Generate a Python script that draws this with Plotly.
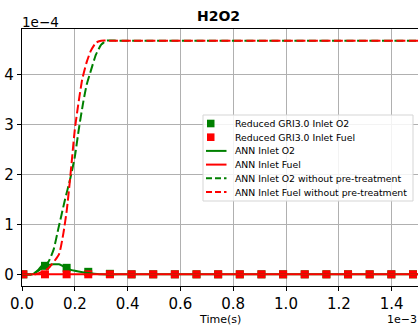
import plotly.graph_objects as go

# time axis in units of 1e-3 s, concentration in units of 1e-4
gri_time = [0.005, 0.087, 0.169, 0.251, 0.333, 0.415, 0.497, 0.579, 0.661, 0.743,
            0.825, 0.907, 0.989, 1.071, 1.153, 1.235, 1.317, 1.399, 1.481]
gri_o2 = [0.0, 0.17, 0.13, 0.05, 0.01, 0.0, 0.0, 0.0, 0.0, 0.0,
          0.0, 0.0, 0.0, 0.0, 0.0, 0.0, 0.0, 0.0, 0.0]
gri_fuel = [0.0, 0.0, 0.0, 0.0, 0.0, 0.0, 0.0, 0.0, 0.0, 0.0,
            0.0, 0.0, 0.0, 0.0, 0.0, 0.0, 0.0, 0.0, 0.0]

ann_o2_time = [0.0, 0.04, 0.06, 0.08, 0.10, 0.12, 0.14, 0.16, 0.18, 0.20, 0.23, 0.26, 0.30, 0.40, 1.5]
ann_o2 = [0.0, 0.0, 0.08, 0.20, 0.19, 0.20, 0.20, 0.15, 0.10, 0.07, 0.04, 0.02, 0.0, 0.0, 0.0]

ann_fuel_time = [0.0, 1.5]
ann_fuel = [0.0, 0.0]

raw_o2_time = [0.0, 0.04, 0.07, 0.10, 0.12, 0.137, 0.15, 0.163, 0.182, 0.20, 0.215,
               0.232, 0.245, 0.262, 0.28, 0.30, 0.32, 0.36, 0.45, 1.5]
raw_o2 = [0.0, 0.0, 0.10, 0.25, 0.50, 0.90, 1.20, 1.50, 1.90, 2.35, 2.90,
          3.45, 3.80, 4.10, 4.40, 4.60, 4.68, 4.68, 4.68, 4.68]

raw_fuel_time = [0.0, 0.05, 0.08, 0.10, 0.14, 0.157, 0.17, 0.18, 0.19, 0.20, 0.213,
                 0.228, 0.245, 0.26, 0.28, 0.30, 0.34, 0.42, 1.5]
raw_fuel = [0.0, 0.0, 0.06, 0.12, 0.40, 0.83, 1.30, 1.80, 2.35, 2.90, 3.40,
            3.90, 4.25, 4.47, 4.64, 4.68, 4.68, 4.68, 4.68]

x_ticks = [0.0, 0.2, 0.4, 0.6, 0.8, 1.0, 1.2, 1.4]
y_ticks = [0, 1, 2, 3, 4]

GREEN = "#008000"
RED = "#ff0000"
FONT = "DejaVu Sans"

fig = go.Figure()
fig.add_trace(go.Scatter(x=gri_time, y=gri_o2, mode="markers", name="Reduced GRI3.0 Inlet O2",
                         marker=dict(symbol="square", size=8, color=GREEN, line=dict(width=0))))
fig.add_trace(go.Scatter(x=gri_time, y=gri_fuel, mode="markers", name="Reduced GRI3.0 Inlet Fuel",
                         marker=dict(symbol="square", size=8, color=RED, line=dict(width=0))))
fig.add_trace(go.Scatter(x=ann_o2_time, y=ann_o2, mode="lines", name="ANN Inlet O2",
                         line=dict(color=GREEN, width=2, shape="spline", smoothing=0.6)))
fig.add_trace(go.Scatter(x=ann_fuel_time, y=ann_fuel, mode="lines", name="ANN Inlet Fuel",
                         line=dict(color=RED, width=2)))
fig.add_trace(go.Scatter(x=raw_o2_time, y=raw_o2, mode="lines", name="ANN Inlet O2 without pre-treatment",
                         line=dict(color=GREEN, width=2, dash="9px,3.5px", shape="spline", smoothing=0.5)))
fig.add_trace(go.Scatter(x=raw_fuel_time, y=raw_fuel, mode="lines", name="ANN Inlet Fuel without pre-treatment",
                         line=dict(color=RED, width=2, dash="9px,3.5px", shape="spline", smoothing=0.5)))

W, H = 418, 327
L, R, T, B = 22, 0, 29, 41
pw, ph = W - L - R, H - T - B


def px(xp):
    return (xp - L) / pw


def py(yp):
    return 1 - (yp - T) / ph


shapes = []
annotations = []

# legend box
lx0, lx1, ly0, ly1 = 203, 413, 115, 201
shapes.append(dict(type="rect", xref="paper", yref="paper",
                   x0=px(lx0), x1=px(lx1), y0=py(ly1), y1=py(ly0),
                   line=dict(color="#d5d5d5", width=1), fillcolor="rgba(255,255,255,0.85)", layer="above"))
rows = [123.5, 137.2, 150.9, 164.6, 178.3, 192.0]
legend_entries = [
    ("marker", GREEN, None, "Reduced GRI3.0 Inlet O2"),
    ("marker", RED, None, "Reduced GRI3.0 Inlet Fuel"),
    ("line", GREEN, "solid", "ANN Inlet O2"),
    ("line", RED, "solid", "ANN Inlet Fuel"),
    ("line", GREEN, "6px,3px", "ANN Inlet O2 without pre-treatment"),
    ("line", RED, "6px,3px", "ANN Inlet Fuel without pre-treatment"),
]
for yrow, (kind, col, dash, label) in zip(rows, legend_entries):
    if kind == "marker":
        shapes.append(dict(type="rect", xref="paper", yref="paper",
                           x0=px(207), x1=px(214.5), y0=py(yrow + 3.8), y1=py(yrow - 3.8),
                           line=dict(width=0), fillcolor=col, layer="above"))
    else:
        shapes.append(dict(type="line", xref="paper", yref="paper",
                           x0=px(206), x1=px(226.5), y0=py(yrow), y1=py(yrow),
                           line=dict(color=col, width=2, dash=dash), layer="above"))
    annotations.append(dict(xref="paper", yref="paper", x=px(232.5), y=py(yrow),
                            xanchor="left", yanchor="middle", text=label, showarrow=False,
                            font=dict(family=FONT, size=9.3, color="#000000")))

# title and offset labels
annotations.append(dict(xref="paper", yref="paper", x=px(218), y=py(16), xanchor="center",
                        yanchor="middle", text="<b>H2O2</b>", showarrow=False,
                        font=dict(family=FONT, size=14, color="#000000")))
annotations.append(dict(xref="paper", yref="paper", x=px(20), y=py(22), xanchor="left",
                        yanchor="middle", text="1e\u22124", showarrow=False,
                        font=dict(family=FONT, size=13.5, color="#000000")))
annotations.append(dict(xref="paper", yref="paper", x=px(419), y=py(319), xanchor="right",
                        yanchor="middle", text="1e\u22123", showarrow=False,
                        font=dict(family=FONT, size=11, color="#000000")))
annotations.append(dict(xref="paper", yref="paper", x=px(220), y=py(319), xanchor="center",
                        yanchor="middle", text="Time(s)", showarrow=False,
                        font=dict(family=FONT, size=11, color="#000000")))

axis_common = dict(showgrid=True, gridcolor="#b0b0b0", gridwidth=1, zeroline=False,
                   showline=True, linecolor="#000000", linewidth=1.2, mirror=True,
                   ticks="outside", ticklen=4, tickcolor="#000000", tickwidth=1,
                   tickfont=dict(family=FONT, size=15, color="#000000"))

fig.update_layout(
    width=W, height=H,
    margin=dict(l=L, r=R, t=T, b=B),
    paper_bgcolor="white", plot_bgcolor="white",
    showlegend=False,
    xaxis=dict(range=[0, 1.5], tickvals=x_ticks, ticktext=[f"{v:.1f}" for v in x_ticks], **axis_common),
    yaxis=dict(range=[-0.234, 4.914], tickvals=y_ticks, ticktext=[str(v) for v in y_ticks], **axis_common),
    shapes=shapes,
    annotations=annotations,
)

fig.write_html("out.html")
